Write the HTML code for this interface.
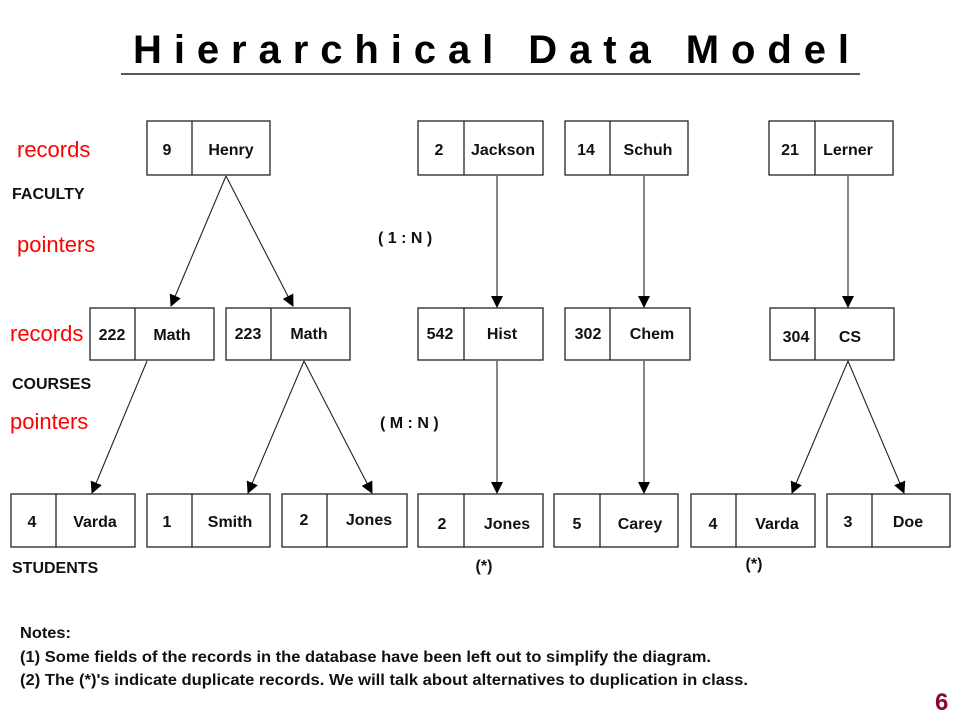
<!DOCTYPE html>
<html><head><meta charset="utf-8"><style>
html,body{margin:0;padding:0;background:#fff;width:960px;height:720px;overflow:hidden}
svg{display:block}
.b{fill:#fff;stroke:#222;stroke-width:1.3}
.t{font-family:"Liberation Sans",sans-serif;font-weight:bold;font-size:16px;fill:#111;text-anchor:middle}
.l{font-family:"Liberation Sans",sans-serif;font-weight:bold;font-size:16px;fill:#111}
.r{font-family:"Liberation Sans",sans-serif;font-size:22px;fill:#f00}
.a{stroke:#222;stroke-width:1.1;fill:none;marker-end:url(#ah)}
</style></head><body>
<svg width="960" height="720" viewBox="0 0 960 720">
<defs><marker id="ah" markerWidth="12" markerHeight="12" refX="11" refY="6" orient="auto" markerUnits="userSpaceOnUse"><path d="M0,0 L12,6 L0,12 z" fill="#000"/></marker></defs>
<text x="133" y="63" font-family="Liberation Sans, sans-serif" font-weight="bold" font-size="40" textLength="716" lengthAdjust="spacing">Hierarchical Data Model</text>
<line x1="121" y1="74" x2="860" y2="74" stroke="#222" stroke-width="1.5"/>
<g>
<rect class="b" x="147" y="121" width="123" height="54"/><line class="b" x1="192" y1="121" x2="192" y2="175"/>
<rect class="b" x="418" y="121" width="125" height="54"/><line class="b" x1="464" y1="121" x2="464" y2="175"/>
<rect class="b" x="565" y="121" width="123" height="54"/><line class="b" x1="610" y1="121" x2="610" y2="175"/>
<rect class="b" x="769" y="121" width="124" height="54"/><line class="b" x1="815" y1="121" x2="815" y2="175"/>
<rect class="b" x="90" y="308" width="124" height="52"/><line class="b" x1="135" y1="308" x2="135" y2="360"/>
<rect class="b" x="226" y="308" width="124" height="52"/><line class="b" x1="271" y1="308" x2="271" y2="360"/>
<rect class="b" x="418" y="308" width="125" height="52"/><line class="b" x1="464" y1="308" x2="464" y2="360"/>
<rect class="b" x="565" y="308" width="125" height="52"/><line class="b" x1="610" y1="308" x2="610" y2="360"/>
<rect class="b" x="770" y="308" width="124" height="52"/><line class="b" x1="815" y1="308" x2="815" y2="360"/>
<rect class="b" x="11" y="494" width="124" height="53"/><line class="b" x1="56" y1="494" x2="56" y2="547"/>
<rect class="b" x="147" y="494" width="123" height="53"/><line class="b" x1="192" y1="494" x2="192" y2="547"/>
<rect class="b" x="282" y="494" width="125" height="53"/><line class="b" x1="327" y1="494" x2="327" y2="547"/>
<rect class="b" x="418" y="494" width="125" height="53"/><line class="b" x1="464" y1="494" x2="464" y2="547"/>
<rect class="b" x="554" y="494" width="124" height="53"/><line class="b" x1="600" y1="494" x2="600" y2="547"/>
<rect class="b" x="691" y="494" width="124" height="53"/><line class="b" x1="736" y1="494" x2="736" y2="547"/>
<rect class="b" x="827" y="494" width="123" height="53"/><line class="b" x1="872" y1="494" x2="872" y2="547"/>
</g>
<g>
<text class="t" x="167" y="155">9</text><text class="t" x="231" y="155">Henry</text>
<text class="t" x="439" y="155">2</text><text class="t" x="503" y="155">Jackson</text>
<text class="t" x="586" y="155">14</text><text class="t" x="648" y="155">Schuh</text>
<text class="t" x="790" y="155">21</text><text class="t" x="848" y="155">Lerner</text>
<text class="t" x="112" y="340">222</text><text class="t" x="172" y="340">Math</text>
<text class="t" x="248" y="339">223</text><text class="t" x="309" y="339">Math</text>
<text class="t" x="440" y="339">542</text><text class="t" x="502" y="339">Hist</text>
<text class="t" x="588" y="339">302</text><text class="t" x="652" y="339">Chem</text>
<text class="t" x="796" y="342">304</text><text class="t" x="850" y="342">CS</text>
<text class="t" x="32" y="527">4</text><text class="t" x="95" y="527">Varda</text>
<text class="t" x="167" y="527">1</text><text class="t" x="230" y="527">Smith</text>
<text class="t" x="304" y="525">2</text><text class="t" x="369" y="525">Jones</text>
<text class="t" x="442" y="529">2</text><text class="t" x="507" y="529">Jones</text>
<text class="t" x="577" y="529">5</text><text class="t" x="640" y="529">Carey</text>
<text class="t" x="713" y="529">4</text><text class="t" x="777" y="529">Varda</text>
<text class="t" x="848" y="527">3</text><text class="t" x="908" y="527">Doe</text>
</g>
<g>
<line class="a" x1="226" y1="176" x2="171" y2="306"/>
<line class="a" x1="226" y1="176" x2="293" y2="306"/>
<line class="a" x1="497" y1="176" x2="497" y2="307"/>
<line class="a" x1="644" y1="176" x2="644" y2="307"/>
<line class="a" x1="848" y1="176" x2="848" y2="307"/>
<line class="a" x1="147" y1="361" x2="92" y2="493"/>
<line class="a" x1="304" y1="361" x2="248" y2="493"/>
<line class="a" x1="304" y1="361" x2="372" y2="493"/>
<line class="a" x1="497" y1="361" x2="497" y2="493"/>
<line class="a" x1="644" y1="361" x2="644" y2="493"/>
<line class="a" x1="848" y1="361" x2="792" y2="493"/>
<line class="a" x1="848" y1="361" x2="904" y2="493"/>
</g>
<text class="r" x="17" y="157">records</text>
<text class="r" x="17" y="252">pointers</text>
<text class="r" x="10" y="341">records</text>
<text class="r" x="10" y="429">pointers</text>
<text class="l" x="12" y="199">FACULTY</text>
<text class="l" x="12" y="389">COURSES</text>
<text class="l" x="12" y="573">STUDENTS</text>
<text class="l" x="378" y="243">( 1 : N )</text>
<text class="l" x="380" y="428">( M : N )</text>
<text class="t" x="484" y="571">(*)</text>
<text class="t" x="754" y="569">(*)</text>
<text class="l" x="20" y="638" textLength="51" lengthAdjust="spacingAndGlyphs">Notes:</text>
<text class="l" x="20" y="662" textLength="691" lengthAdjust="spacingAndGlyphs">(1) Some fields of the records in the database have been left out to simplify the diagram.</text>
<text class="l" x="20" y="685" textLength="728" lengthAdjust="spacingAndGlyphs">(2) The (*)'s indicate duplicate records.  We will talk about alternatives to duplication in class.</text>
<text x="935" y="710" font-family="Liberation Sans, sans-serif" font-weight="bold" font-size="24" fill="#8b0a2a">6</text>
</svg>
</body></html>
